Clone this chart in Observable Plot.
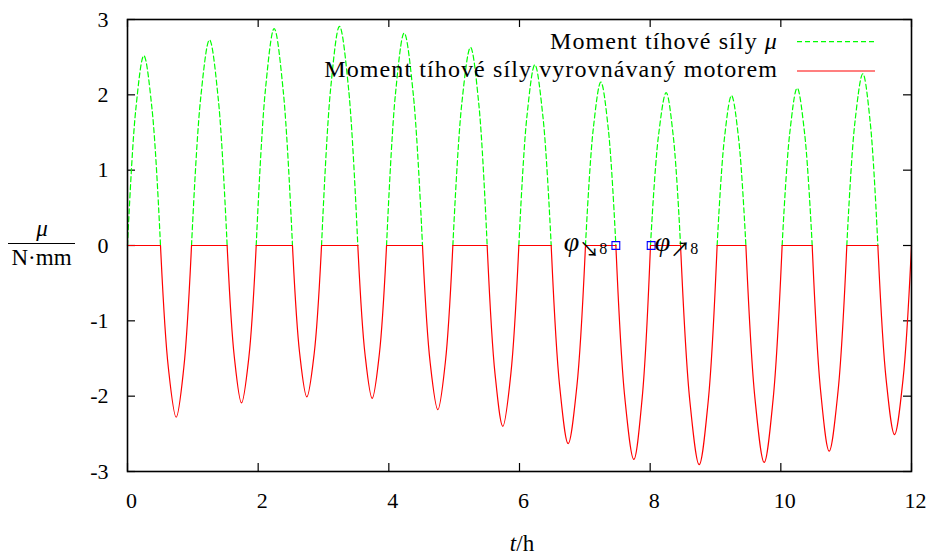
<!DOCTYPE html>
<html>
<head>
<meta charset="utf-8">
<script src="https://cdn.jsdelivr.net/npm/d3@7"></script>
<script src="https://cdn.jsdelivr.net/npm/@observablehq/plot@0.6"></script>
<style>
  html, body { margin: 0; padding: 0; background: #fff; }
  svg { display: block; }
</style>
</head>
<body>
<div id="chart"></div>
<script>
// μ(t) samples: lobe boundaries (zero crossings), quarter points and extrema
const muT = [
  0, 0.125, 0.25, 0.378, 0.505,
  0.625, 0.745, 0.862, 0.98,
  1.118, 1.255, 1.39, 1.525,
  1.635, 1.745, 1.858, 1.97,
  2.108, 2.245, 2.385, 2.525,
  2.635, 2.745, 2.858, 2.97,
  3.108, 3.245, 3.385, 3.525,
  3.635, 3.745, 3.855, 3.965,
  4.1, 4.235, 4.375, 4.515,
  4.632, 4.75, 4.865, 4.98,
  5.115, 5.25, 5.378, 5.505,
  5.625, 5.745, 5.868, 5.99,
  6.112, 6.235, 6.36, 6.485,
  6.615, 6.745, 6.878, 7.01,
  7.128, 7.245, 7.36, 7.475,
  7.612, 7.75, 7.878, 8.005,
  8.125, 8.245, 8.355, 8.465,
  8.608, 8.75, 8.888, 9.025,
  9.135, 9.245, 9.355, 9.465,
  9.605, 9.745, 9.882, 10.02,
  10.135, 10.25, 10.365, 10.48,
  10.61, 10.74, 10.875, 11.01,
  11.132, 11.255, 11.37, 11.485,
  11.612, 11.74, 11.87, 12.0
];
const muV = [
  0, 1.79, 2.52, 1.79, 0,
  -1.62, -2.28, -1.62, 0,
  1.94, 2.73, 1.94, 0,
  -1.48, -2.09, -1.48, 0,
  2.04, 2.88, 2.04, 0,
  -1.43, -2.01, -1.43, 0,
  2.07, 2.91, 2.07, 0,
  -1.44, -2.03, -1.44, 0,
  2.0, 2.82, 2.0, 0,
  -1.55, -2.18, -1.55, 0,
  1.87, 2.63, 1.87, 0,
  -1.70, -2.40, -1.70, 0,
  1.70, 2.40, 1.70, 0,
  -1.87, -2.63, -1.87, 0,
  1.54, 2.17, 1.54, 0,
  -2.02, -2.84, -2.02, 0,
  1.44, 2.03, 1.44, 0,
  -2.07, -2.91, -2.07, 0,
  1.41, 1.99, 1.41, 0,
  -2.04, -2.88, -2.04, 0,
  1.48, 2.09, 1.48, 0,
  -1.94, -2.73, -1.94, 0,
  1.62, 2.28, 1.62, 0,
  -1.78, -2.51, -1.78, 0
];
// marked points φ↘8 and φ↗8
const markT = [7.475, 8.015];
const markV = [0, 0];
const markArrow = ["↘", "↗"];
const markSub = ["8", "8"];

const xTicks = [0, 2, 4, 6, 8, 10, 12];
const yTicks = [-3, -2, -1, 0, 1, 2, 3];

const legendLabels = ["Moment tíhové síly ", "Moment tíhové síly vyrovnávaný motorem"];

// split the curve into lobes at zero crossings
const rows = [];
let lobe = 0;
muT.forEach((t, i) => {
  rows.push({t, mu: muV[i], lobe});
  if (i > 0 && i < muT.length - 1 && muV[i] === 0) {
    lobe++;
    rows.push({t, mu: muV[i], lobe});
  }
});
const lobeMax = d3.rollup(rows, v => d3.max(v, d => d.mu), d => d.lobe);
// green drawn where visible (red covers the negative lobes)
const greenRows = rows.filter(d => lobeMax.get(d.lobe) > 0);
const redRows = rows.map(d => ({t: d.t, mu: Math.min(d.mu, 0), lobe: d.lobe}));
const marks = markT.map((t, i) => ({t, v: markV[i]}));

const W = 928, H = 555;
const mL = 127, mR = 17, mT = 19, mB = 84;
const innerW = W - mL - mR, innerH = H - mT - mB;
const TL = 8;
const font = "'Liberation Serif', 'DejaVu Serif', serif";

const plot = Plot.plot({
  width: W, height: H,
  marginLeft: mL, marginRight: mR, marginTop: mT, marginBottom: mB,
  style: {fontFamily: font, fontSize: "22px", background: "#fff", color: "#000"},
  x: {domain: [0, 12]},
  y: {domain: [-3, 3]},
  marks: [
    Plot.axisX({ticks: xTicks, tickSize: 0, tickPadding: 21, dx: 4, label: null, tickFormat: d => String(d), fontSize: 22}),
    Plot.axisY({ticks: yTicks, tickSize: 0, tickPadding: 19, label: null, tickFormat: d => String(d), fontSize: 22}),
    Plot.tickX(xTicks, {x: d => d, insetTop: innerH - TL, stroke: "#000", strokeWidth: 1.2}),
    Plot.tickX(xTicks, {x: d => d, insetBottom: innerH - TL, stroke: "#000", strokeWidth: 1.2}),
    Plot.tickY(yTicks, {y: d => d, insetRight: innerW - TL, stroke: "#000", strokeWidth: 1.2}),
    Plot.tickY(yTicks, {y: d => d, insetLeft: innerW - TL, stroke: "#000", strokeWidth: 1.2}),
    Plot.line(greenRows, {x: "t", y: "mu", z: "lobe", curve: "catmull-rom", stroke: "#00ff00", strokeWidth: 1.2, strokeDasharray: "5,3"}),
    Plot.line(redRows, {x: "t", y: "mu", z: "lobe", curve: "catmull-rom", stroke: "#ff0000", strokeWidth: 1.2}),
    Plot.dot(marks, {x: "t", y: "v", symbol: "square", r: 4.4, stroke: "#0000ff", strokeWidth: 1.1, fill: "none"}),
    Plot.frame({stroke: "#000", strokeWidth: 1.6})
  ]
});

document.getElementById("chart").appendChild(plot);

const svg = d3.select(plot);
const xs = plot.scale("x"), ys = plot.scale("y");

// point labels φ↘8 (left of first square) and φ↗8 (right of second square)
markT.forEach((t, i) => {
  const px = xs.apply(t), py = ys.apply(markV[i]);
  const left = i === 0;
  const txt = svg.append("text")
    .attr("x", left ? px - 8 : px + 4)
    .attr("y", py + 6)
    .attr("text-anchor", left ? "end" : "start")
    .attr("font-family", font)
    .attr("fill", "#000");
  txt.append("tspan").attr("font-style", "italic").attr("font-size", 28).text("φ");
  txt.append("tspan").attr("font-family", "'Noto Sans CJK JP', 'DejaVu Sans', sans-serif").attr("font-size", 20).attr("dy", 6).text(markArrow[i]);
  txt.append("tspan").attr("font-size", 16).attr("dy", -3).text(markSub[i]);
});

// legend (top right, inside frame)
const legX = 778, sampleX1 = 797, sampleX2 = 875;
const legRows = [
  {y: 41.7, color: "#00ff00", dash: "5,3"},
  {y: 71, color: "#ff0000", dash: null}
];
const lg = svg.append("g").attr("font-family", font).attr("font-size", 24).attr("letter-spacing", "1.1px");
const t1 = lg.append("text").attr("x", legX).attr("y", 48.5).attr("text-anchor", "end");
t1.append("tspan").text(legendLabels[0]);
t1.append("tspan").attr("font-style", "italic").text("μ");
lg.append("text").attr("x", legX).attr("y", 77).attr("text-anchor", "end").text(legendLabels[1]);
legRows.forEach(r => {
  const l = lg.append("line").attr("x1", sampleX1).attr("x2", sampleX2).attr("y1", r.y).attr("y2", r.y)
    .attr("stroke", r.color).attr("stroke-width", 1.2);
  if (r.dash) l.attr("stroke-dasharray", r.dash);
});

// x axis label: t/h
const xl = svg.append("text").attr("font-family", font).attr("font-size", 23)
  .attr("x", (xs.apply(0) + xs.apply(12)) / 2 + 3).attr("y", 551).attr("text-anchor", "middle");
xl.append("tspan").attr("font-style", "italic").text("t");
xl.append("tspan").text("/h");

// y axis label: μ / N·mm as a fraction
const yg = svg.append("g").attr("font-family", font).attr("font-size", 23);
yg.append("text").attr("x", 42).attr("y", 236).attr("text-anchor", "middle").attr("font-style", "italic").text("μ");
yg.append("line").attr("x1", 8).attr("x2", 75).attr("y1", 243.5).attr("y2", 243.5).attr("stroke", "#000").attr("stroke-width", 1);
yg.append("text").attr("x", 41.5).attr("y", 265).attr("text-anchor", "middle").text("N·mm");
</script>
</body>
</html>
